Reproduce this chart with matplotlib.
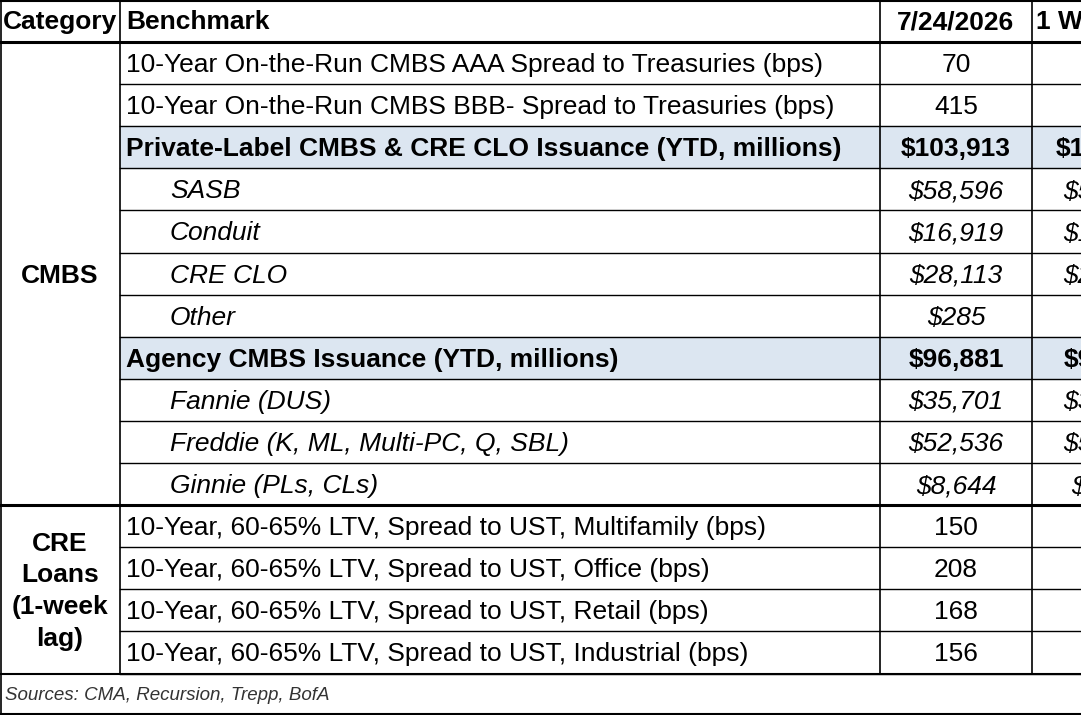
import matplotlib.pyplot as plt

benchmarks = [
    "10-Year On-the-Run CMBS AAA Spread to Treasuries (bps)",
    "10-Year On-the-Run CMBS BBB- Spread to Treasuries (bps)",
    "Private-Label CMBS & CRE CLO Issuance (YTD, millions)",
    "SASB", "Conduit", "CRE CLO", "Other",
    "Agency CMBS Issuance (YTD, millions)",
    "Fannie (DUS)", "Freddie (K, ML, Multi-PC, Q, SBL)", "Ginnie (PLs, CLs)",
    "10-Year, 60-65% LTV, Spread to UST, Multifamily (bps)",
    "10-Year, 60-65% LTV, Spread to UST, Office (bps)",
    "10-Year, 60-65% LTV, Spread to UST, Retail (bps)",
    "10-Year, 60-65% LTV, Spread to UST, Industrial (bps)",
]
current = ["70", "415", "$103,913", "$58,596", "$16,919", "$28,113", "$285",
           "$96,881", "$35,701", "$52,536", "$8,644", "150", "208", "168", "156"]
week_ago = ["70", "415", "$101,902", "$57,331", "$16,420", "$27,876", "$275",
            "$94,510", "$34,960", "$51,120", "$8,430", "150", "208", "168", "156"]
row_style = ["plain", "plain", "bold", "italic", "italic", "italic", "italic",
             "bold", "italic", "italic", "italic", "plain", "plain", "plain", "plain"]
categories = [("CMBS", 0, 11), ("CRE\nLoans\n(1-week\nlag)", 11, 15)]


def draw_table(filename: str) -> None:
    """Draws the benchmark table and saves it."""
    plt.rcParams['font.family'] = 'Liberation Sans'
    fig = plt.figure(figsize=(10.81, 7.15), dpi=100)
    ax = fig.add_axes([0, 0, 1, 1])
    ax.set_xlim(0, 1081)
    ax.set_ylim(715, 0)
    ax.axis('off')

    x_cols = [0, 120, 880, 1032, 1190]
    top, row_h = 42, 42.1
    fs = 19

    # header
    ax.text(3, 22, "Category", fontsize=fs, weight='bold', va='center')
    ax.text(126, 22, "Benchmark", fontsize=fs, weight='bold', va='center')
    ax.text(956, 22, "7/24/2026", fontsize=fs, weight='bold', va='center', ha='center')
    ax.text(1036, 22, "1 Week Ago", fontsize=fs, weight='bold', va='center')

    for i, name in enumerate(benchmarks):
        y0 = top + i * row_h
        yc = y0 + row_h / 2 + 2
        style = row_style[i]
        if style == 'bold':
            ax.fill_between([x_cols[1], 1081], y0, y0 + row_h, color='#dce6f1', zorder=0)
        kw = dict(fontsize=fs, va='center')
        if style == 'bold':
            kw['weight'] = 'bold'
        if style == 'italic':
            kw['style'] = 'italic'
        indent = 50 if style == 'italic' else 6
        ax.text(x_cols[1] + indent, yc, name, **kw)
        ax.text(956, yc, current[i], ha='center', **kw)
        ax.text(1111, yc, week_ago[i], ha='center', **kw)
        ax.plot([x_cols[1], 1081], [y0 + row_h, y0 + row_h], color='black', lw=1)

    for label, r0, r1 in categories:
        ymid = top + (r0 + r1) / 2 * row_h + 2
        ax.text(60, ymid, label, fontsize=fs, weight='bold', ha='center', va='center',
                linespacing=1.4)

    bottom = top + 15 * row_h
    # borders
    ax.plot([0, 1081], [1, 1], color='black', lw=1.5)
    ax.plot([0, 1081], [top, top], color='black', lw=2.2)
    ax.plot([0, 1081], [top + 11 * row_h] * 2, color='black', lw=2.2)
    ax.plot([0, 1081], [bottom, bottom], color='black', lw=1.5)
    ax.plot([0, 1081], [714, 714], color='black', lw=1.5)
    for x in x_cols[:4]:
        ax.plot([x + (1 if x == 0 else 0)] * 2, [0, bottom], color='black', lw=1.2)
    ax.plot([1, 1], [bottom, 715], color='black', lw=1.2)

    ax.text(5, (bottom + 715) / 2 + 1, "Sources: CMA, Recursion, Trepp, BofA",
            fontsize=13.5, style='italic', color='#333333', va='center')

    fig.savefig(filename)
    plt.close(fig)


if __name__ == '__main__':
    draw_table("out.png")
